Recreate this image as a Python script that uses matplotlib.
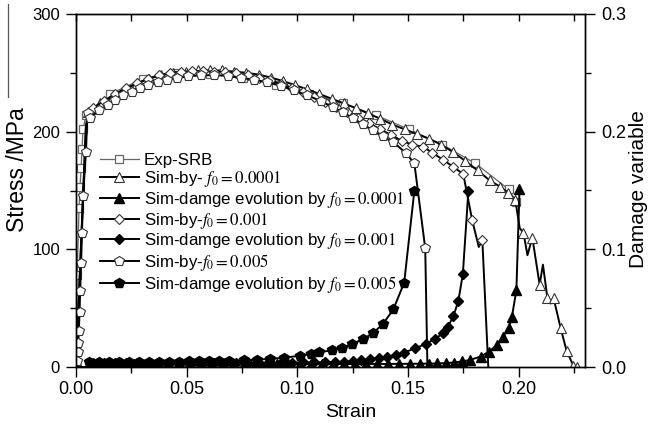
import matplotlib
matplotlib.use('Agg')
import matplotlib.pyplot as plt
from matplotlib.lines import Line2D, TICKDOWN
from matplotlib.ticker import MultipleLocator, FormatStrFormatter

plt.rcParams['font.family'] = ['Liberation Sans', 'DejaVu Sans']
plt.rcParams['mathtext.fontset'] = 'stix'

# ---------------- data ----------------
exp_strain = [0, 0.0005, 0.0014, 0.0018, 0.0023, 0.0027, 0.0032, 0.0045, 0.0154, 0.0303,
              0.0455, 0.0605, 0.0755, 0.0905, 0.1055, 0.1205, 0.1355, 0.1505, 0.1655,
              0.1805, 0.1955, 0.199]
exp_stress = [0, 78, 135, 153, 169, 185, 202, 214, 232, 245, 250, 249, 246, 240, 232, 224,
              214, 202, 189, 173, 151, 140]

sim1_strain = [0, 0.0045, 0.0055, 0.011, 0.0165, 0.022, 0.0275, 0.033, 0.0385, 0.044, 0.0495,
               0.055, 0.0605, 0.066, 0.0715, 0.077, 0.0825, 0.088, 0.0935, 0.099, 0.1045,
               0.11, 0.1155, 0.121, 0.1265, 0.132, 0.1375, 0.143, 0.1485, 0.154, 0.1595,
               0.165, 0.1705, 0.176, 0.1815, 0.187, 0.1918, 0.1954, 0.1985, 0.2005, 0.2022,
               0.204, 0.2062, 0.2095, 0.211, 0.213, 0.2145, 0.2158, 0.219, 0.2217, 0.2248,
               0.2266]
sim1_stress = [0, 205, 217, 224, 230, 236, 241, 245, 248, 250, 251, 252, 252, 252, 251, 250,
               248.5, 246, 243, 239.5, 236, 232, 228, 224, 220, 215.5, 211, 206, 202, 198,
               194, 189, 182.5, 175, 167, 158.5, 153, 148, 142, 118, 114, 95, 110, 70, 87,
               58.6, 54, 58.6, 33, 13.6, 1, 0]
sim1_nomark = [1, 39, 41, 44, 46]

sim2_strain = [0, 0.0045, 0.0075, 0.0125, 0.0175, 0.0225, 0.0275, 0.0325, 0.0375, 0.0425,
               0.0475, 0.0525, 0.0575, 0.0625, 0.0675, 0.0725, 0.0775, 0.0825, 0.0875,
               0.0925, 0.0975, 0.1025, 0.1075, 0.1125, 0.1175, 0.1225, 0.1275, 0.1325,
               0.1375, 0.1425, 0.1475, 0.152, 0.157, 0.161, 0.166, 0.1705, 0.175, 0.179,
               0.182, 0.1836, 0.1863]
sim2_stress = [0, 205, 220, 226, 232, 237, 241, 245, 248, 250, 251, 251.5, 251.5, 251,
               250.5, 249.5, 248, 246, 243.5, 240.5, 237, 233.5, 229.5, 225, 221, 216.5,
               212, 207, 202, 197, 192, 189, 187, 182, 176, 170, 164, 125, 102, 108, 0]
sim2_nomark = [1, 38, 40]

sim3_strain = [0, 0.0004, 0.0007, 0.001, 0.0013, 0.0016, 0.0019, 0.0023, 0.0027, 0.0032,
               0.0045, 0.0052, 0.0065, 0.0105, 0.0146, 0.0176, 0.0214, 0.0252, 0.029,
               0.0326, 0.037, 0.041, 0.0455, 0.0505, 0.0565, 0.0625, 0.0685, 0.0745,
               0.0805, 0.0865, 0.0925, 0.0985, 0.1045, 0.1105, 0.116, 0.1205, 0.125,
               0.1295, 0.134, 0.1385, 0.1434, 0.149, 0.1529, 0.1578, 0.1588]
sim3_stress = [0, 5, 13, 20, 31, 47, 65, 88, 114, 145, 183, 216, 212, 218, 223, 227, 231,
               234, 237, 239.5, 242, 244, 245.5, 247, 248, 248, 247.5, 246, 244, 242, 239,
               235, 231, 226, 221, 216.5, 211.6, 206.5, 201, 196, 191, 182, 173, 101, 0]
sim3_nomark = [44]

dmg1_strain = [0, 0.005, 0.006, 0.011, 0.016, 0.021, 0.026, 0.031, 0.036, 0.041, 0.046,
               0.051, 0.056, 0.061, 0.066, 0.071, 0.076, 0.081, 0.086, 0.091, 0.096, 0.101,
               0.106, 0.111, 0.116, 0.121, 0.126, 0.131, 0.136, 0.141, 0.146, 0.151,
               0.1556, 0.1595, 0.163, 0.167, 0.1706, 0.1745, 0.178, 0.1828, 0.1865, 0.1903,
               0.193, 0.1955, 0.197, 0.199, 0.2004]
dmg1_value = [0, 0, 0.0025, 0.0025, 0.0025, 0.0025, 0.0025, 0.0025, 0.0025, 0.0025, 0.0025,
              0.0025, 0.0025, 0.0025, 0.0025, 0.0025, 0.0025, 0.0025, 0.0025, 0.0025,
              0.0025, 0.0025, 0.0025, 0.0025, 0.0025, 0.0025, 0.0025, 0.0026, 0.0026,
              0.0026, 0.0027, 0.0027, 0.0028, 0.0029, 0.003, 0.0033, 0.0038, 0.0047, 0.006,
              0.0088, 0.013, 0.0187, 0.0258, 0.033, 0.0428, 0.0654, 0.151]

dmg2_strain = [0, 0.005, 0.0075, 0.0125, 0.0175, 0.0225, 0.0275, 0.0325, 0.0375, 0.0425,
               0.0475, 0.0525, 0.0575, 0.0625, 0.0675, 0.0725, 0.0775, 0.0825, 0.0875,
               0.0925, 0.0975, 0.1025, 0.1075, 0.1125, 0.117, 0.121, 0.125, 0.129, 0.133,
               0.137, 0.1405, 0.1445, 0.148, 0.1533, 0.158, 0.1624, 0.166, 0.168, 0.1705,
               0.1728, 0.1748, 0.1773]
dmg2_value = [0, 0, 0.0035, 0.0035, 0.0035, 0.0035, 0.0035, 0.0035, 0.0035, 0.0035,
              0.0035, 0.0035, 0.0035, 0.0035, 0.0035, 0.0035, 0.0036, 0.0036, 0.0037,
              0.0037, 0.0038, 0.0039, 0.004, 0.0041, 0.0043, 0.0045, 0.0048, 0.0058, 0.0068,
              0.0078, 0.0088, 0.0102, 0.012, 0.016, 0.0195, 0.024, 0.029, 0.034, 0.043,
              0.0564, 0.079, 0.1496]

dmg3_strain = [0, 0.005, 0.006, 0.0105, 0.015, 0.0195, 0.024, 0.0285, 0.033, 0.0375, 0.042,
               0.0465, 0.051, 0.0555, 0.06, 0.0645, 0.069, 0.0757, 0.0817, 0.0877, 0.094,
               0.1013, 0.106, 0.110, 0.1156, 0.120, 0.1248, 0.1297, 0.134, 0.1387, 0.1434,
               0.1483, 0.1529]
dmg3_value = [0, 0, 0.0045, 0.0045, 0.0045, 0.0045, 0.0045, 0.0045, 0.0045, 0.0045, 0.0045,
              0.0046, 0.0047, 0.0048, 0.0049, 0.005, 0.0052, 0.0056, 0.0062, 0.0069, 0.0079,
              0.0096, 0.011, 0.0125, 0.0142, 0.0164, 0.0195, 0.0238, 0.0285, 0.0365, 0.049,
              0.0717, 0.150]

labels = ['Exp-SRB',
          'Sim-by- $f_0=0.0001$',
          'Sim-damge evolution by $f_0=0.0001$',
          'Sim-by-$f_0=0.001$',
          'Sim-damge evolution by $f_0=0.001$',
          'Sim-by-$f_0=0.005$',
          'Sim-damge evolution by $f_0=0.005$']


def marks(n, skip):
    return [i for i in range(n) if i not in skip]


# ---------------- figure ----------------
W, H = 651, 426
fig = plt.figure(figsize=(W / 100, H / 100), dpi=100)
ax = fig.add_axes([76 / W, 1 - 367 / H, (585 - 76) / W, (367 - 14) / H])
ax2 = ax.twinx()

lw = 1.4
ms = 7
h_exp, = ax.plot(exp_strain, exp_stress, color='#666666', lw=0.9, marker='s', ms=5.5,
                 mfc='white', mec='#666666', mew=0.9)
h_s1, = ax.plot(sim1_strain, sim1_stress, color='black', lw=lw, marker='^', ms=ms,
                mfc='white', mec='#333333', mew=0.8,
                markevery=marks(len(sim1_strain), sim1_nomark))
h_s2, = ax.plot(sim2_strain, sim2_stress, color='black', lw=lw, marker='D', ms=5.5,
                mfc='white', mec='#333333', mew=0.8,
                markevery=marks(len(sim2_strain), sim2_nomark))
h_s3, = ax.plot(sim3_strain, sim3_stress, color='black', lw=lw, marker='p', ms=ms + 0.5,
                mfc='white', mec='#333333', mew=0.8,
                markevery=marks(len(sim3_strain), sim3_nomark))

h_d1, = ax2.plot(dmg1_strain, dmg1_value, color='black', lw=lw, marker='^', ms=ms,
                 mfc='black', mec='black', markevery=marks(len(dmg1_strain), [0, 1]))
h_d2, = ax2.plot(dmg2_strain, dmg2_value, color='black', lw=lw, marker='D', ms=5.5,
                 mfc='black', mec='black', markevery=marks(len(dmg2_strain), [0, 1]))
h_d3, = ax2.plot(dmg3_strain, dmg3_value, color='black', lw=lw, marker='p', ms=ms + 0.5,
                 mfc='black', mec='black', markevery=marks(len(dmg3_strain), [0, 1]))

ax.set_xlim(0, 0.23)
ax.set_ylim(0, 300)
ax2.set_ylim(0, 0.3)

ax.xaxis.set_major_locator(MultipleLocator(0.05))
ax.xaxis.set_minor_locator(MultipleLocator(0.025))
ax.xaxis.set_major_formatter(FormatStrFormatter('%.2f'))
ax.yaxis.set_major_locator(MultipleLocator(100))
ax.yaxis.set_minor_locator(MultipleLocator(50))
ax2.yaxis.set_major_locator(MultipleLocator(0.1))
ax2.yaxis.set_minor_locator(MultipleLocator(0.05))
ax2.yaxis.set_major_formatter(FormatStrFormatter('%.1f'))

ax.tick_params(axis='x', which='major', direction='out', length=7, width=1, labelsize=13,
               top=True, pad=3)
ax.tick_params(axis='x', which='minor', direction='out', length=4, width=1, top=True)
ax.tick_params(axis='y', which='major', direction='out', length=7.5, width=1, labelsize=12,
               pad=4)
ax.tick_params(axis='y', which='minor', direction='out', length=4, width=1)
ax2.tick_params(axis='y', which='major', direction='out', length=7.5, width=1, labelsize=13,
                pad=4)
ax2.tick_params(axis='y', which='minor', direction='out', length=4, width=1)

# top ticks pointing inward
for t in ax.xaxis.get_major_ticks() + ax.xaxis.get_minor_ticks():
    t.tick2line.set_marker(TICKDOWN)
    t.tick2line.set_markersize(5)

for a in (ax, ax2):
    for s in a.spines.values():
        s.set_linewidth(1)

ax.set_xlabel('Strain', fontsize=14)
ax.xaxis.set_label_coords((351 - 76) / 509, (367 - 404) / 353)
ax.set_ylabel('Stress /MPa', fontsize=16.5)
ax.yaxis.set_label_coords((29 - 76) / 509, (367 - 170) / 353)
ax2.set_ylabel('Damage variable', fontsize=15)
ax2.yaxis.set_label_coords((629 - 76) / 509, (367 - 189) / 353)

handles = [h_exp, h_s1, h_d1, h_s2, h_d2, h_s3, h_d3]
fig.legend(handles, labels, loc='upper left', bbox_to_anchor=(100 / W, 1 - 153 / H),
           frameon=False, fontsize=12.2, handlelength=2.3, handletextpad=0.3,
           labelspacing=0.05, borderpad=0, borderaxespad=0)

# thin vertical rule at the far left of the reference image
fig.add_artist(Line2D([8 / W, 8 / W], [1 - 4 / H, 1 - 97 / H], transform=fig.transFigure,
                      color='#555555', lw=0.9))

fig.savefig('out.png', dpi=100)
